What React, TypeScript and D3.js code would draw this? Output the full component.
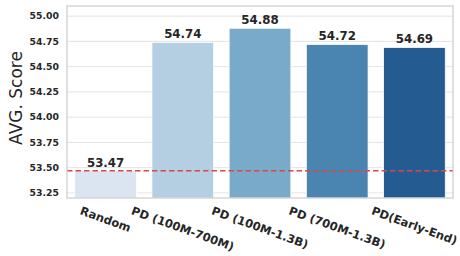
import React, { useEffect, useRef } from "react";
import * as d3 from "d3";

const categories = ["Random", "PD (100M-700M)", "PD (100M-1.3B)", "PD (700M-1.3B)", "PD(Early-End)"];
const values = [53.47, 54.74, 54.88, 54.72, 54.69];
const colors = ["#dbe5f1", "#b4cfe2", "#7aaac9", "#4a84b1", "#245b90"];
const yTicks = [53.25, 53.5, 53.75, 54.0, 54.25, 54.5, 54.75, 55.0];
const baseline = 53.47;
const yLabel = "AVG. Score";

const W = 460, H = 256;
const M = { left: 67, right: 7, top: 6, bottom: 58 };

export default function App() {
  const ref = useRef<SVGSVGElement>(null);
  useEffect(() => {
    const svg = d3.select(ref.current);
    svg.selectAll("*").remove();
    const x = d3.scaleBand<string>().domain(categories).range([M.left, W - M.right]).paddingInner(0.2).paddingOuter(0.1);
    const y = d3.scaleLinear().domain([53.2, 55.1]).range([H - M.bottom, M.top]);
    const font = "DejaVu Sans, sans-serif";

    // grid
    svg.append("g").selectAll("line").data(yTicks).join("line")
      .attr("x1", M.left).attr("x2", W - M.right)
      .attr("y1", d => y(d)).attr("y2", d => y(d))
      .attr("stroke", "#e3e3e3").attr("stroke-width", 1);

    // bars
    svg.append("g").selectAll("rect").data(values).join("rect")
      .attr("x", (d, i) => x(categories[i])!)
      .attr("width", x.bandwidth())
      .attr("y", d => y(d))
      .attr("height", d => y(53.2) - y(d))
      .attr("fill", (d, i) => colors[i])
      .attr("stroke", "#ffffff").attr("stroke-width", 0.8);

    // value labels
    svg.append("g").selectAll("text").data(values).join("text")
      .attr("x", (d, i) => x(categories[i])! + x.bandwidth() / 2)
      .attr("y", d => y(d) - 4)
      .attr("text-anchor", "middle")
      .attr("font-family", font).attr("font-weight", "bold").attr("font-size", 11.8)
      .attr("fill", "#262626")
      .text(d => d.toFixed(2));

    // baseline
    svg.append("line")
      .attr("x1", M.left).attr("x2", W - M.right)
      .attr("y1", y(baseline)).attr("y2", y(baseline))
      .attr("stroke", "#d9474a").attr("stroke-width", 1.4)
      .attr("stroke-dasharray", "5.5,3");

    // frame
    svg.append("rect")
      .attr("x", M.left).attr("y", M.top)
      .attr("width", W - M.left - M.right).attr("height", H - M.top - M.bottom)
      .attr("fill", "none").attr("stroke", "#cccccc").attr("stroke-width", 1.2);

    // y tick labels
    svg.append("g").selectAll("text").data(yTicks).join("text")
      .attr("x", M.left - 8)
      .attr("y", d => y(d))
      .attr("dy", "0.35em")
      .attr("text-anchor", "end")
      .attr("font-family", font).attr("font-weight", "bold").attr("font-size", 9.3)
      .attr("fill", "#262626")
      .text(d => d.toFixed(2));

    // y label
    svg.append("text")
      .attr("transform", `translate(22,98) rotate(-90)`)
      .attr("text-anchor", "middle")
      .attr("font-family", font).attr("font-size", 17)
      .attr("fill", "#262626")
      .text(yLabel);

    // x labels rotated
    const fs = 11.5;
    const ang = 20 * Math.PI / 180;
    const top = H - M.bottom + 6;
    const g = svg.append("g");
    categories.forEach((c) => {
      const t = g.append("text")
        .attr("text-anchor", "middle")
        .attr("dominant-baseline", "central")
        .attr("font-family", font).attr("font-weight", "bold").attr("font-size", fs)
        .attr("fill", "#262626")
        .text(c);
      const w = (t.node() as SVGTextElement).getComputedTextLength();
      const h = fs * 1.16;
      const bh = w * Math.sin(ang) + h * Math.cos(ang);
      const cx = x(c)! + x.bandwidth() / 2;
      const cy = top + bh / 2;
      t.attr("transform", `translate(${cx},${cy}) rotate(20)`);
    });
  }, []);
  return (
    <svg ref={ref} width={W} height={H} style={{ position: "absolute", left: 0, top: 0, background: "#fff" }} />
  );
}
